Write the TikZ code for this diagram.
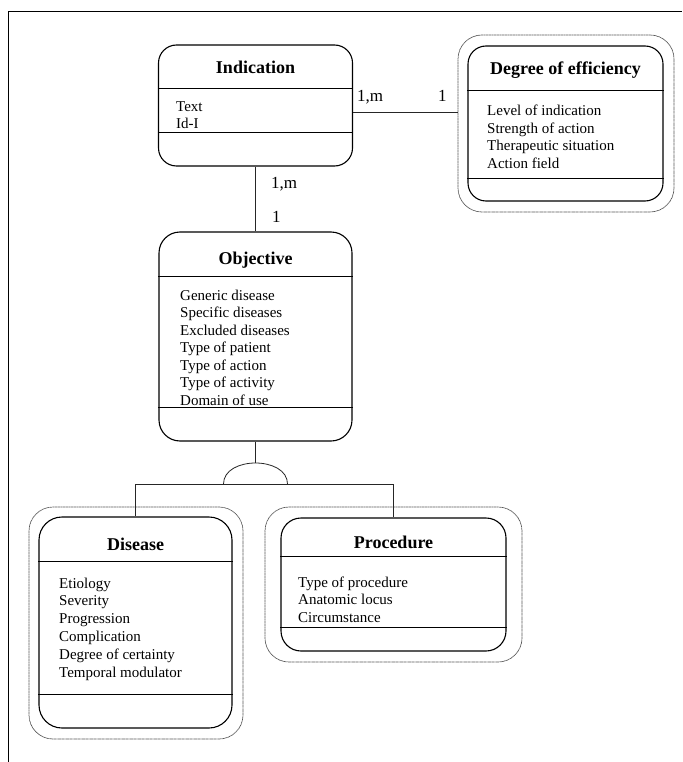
\documentclass[tikz,border=0pt]{standalone}
\usepackage{fontspec}
\setmainfont{Liberation Serif}
\tikzset{
  entity/.style={draw, line width=1.1pt, rounded corners=18pt, inner sep=0pt},
  outer/.style={draw=black!65, line width=0.7pt, dash pattern=on 1.2pt off 0.4pt, rounded corners=24pt, inner sep=0pt},
  sep/.style={line width=1.1pt},
  link/.style={line width=0.8pt, black!85},
  title/.style={font=\fontsize{18}{20}\selectfont\bfseries, anchor=base, inner sep=0pt},
  item/.style={font=\fontsize{15}{17.5}\selectfont, anchor=base west, inner sep=0pt},
  card/.style={font=\fontsize{17}{19}\selectfont, anchor=base west, inner sep=0pt}
}
\begin{document}
\begin{tikzpicture}[x=1pt, y=-1pt]
\useasboundingbox (0,0) rectangle (682,762);
% Frame
    \draw[line width=1pt] (8,762) -- (8,12) -- (682,12);
% Outer lines
    \node[outer, minimum width=216pt, minimum height=177pt] (degout) at (566,123.5) {};
    \node[outer, minimum width=214pt, minimum height=232pt] (disout) at (136,623) {};
    \node[outer, minimum width=257pt, minimum height=155pt] (procout) at (393.5,584.5) {};
% Boxes
    \node[entity, minimum width=194pt, minimum height=121pt] (ind) at (255.5,105.5) {};
    \node[entity, rounded corners=21pt, minimum width=193pt, minimum height=209pt] (obj) at (255.5,336.5) {};
    \node[entity, minimum width=195pt, minimum height=155pt] (deg) at (565.5,123.5) {};
    \node[entity, rounded corners=23pt, minimum width=193pt, minimum height=211pt] (dis) at (135.5,622.5) {};
    \node[entity, rounded corners=20pt, minimum width=225pt, minimum height=133pt] (proc) at (393.5,584.5) {};
% Separators
    \draw[sep] ([yshift=-44pt]ind.north west) -- ([yshift=-44pt]ind.north east);
    \draw[sep] ([yshift=-88pt]ind.north west) -- ([yshift=-88pt]ind.north east);
    \draw[sep] ([yshift=-45pt]obj.north west) -- ([yshift=-45pt]obj.north east);
    \draw[sep] ([yshift=-176pt]obj.north west) -- ([yshift=-176pt]obj.north east);
    \draw[sep] ([yshift=-45pt]deg.north west) -- ([yshift=-45pt]deg.north east);
    \draw[sep] ([yshift=-133pt]deg.north west) -- ([yshift=-133pt]deg.north east);
    \draw[sep] ([yshift=-45pt]dis.north west) -- ([yshift=-45pt]dis.north east);
    \draw[sep] ([yshift=-178pt]dis.north west) -- ([yshift=-178pt]dis.north east);
    \draw[sep] ([yshift=-39pt]proc.north west) -- ([yshift=-39pt]proc.north east);
    \draw[sep] ([yshift=-110pt]proc.north west) -- ([yshift=-110pt]proc.north east);
% Titles
    \node[title] (indT) at (255.5,74) {Indication};
    \node[title] (objT) at (255.5,264) {Objective};
    \node[title] (degT) at (565.5,75) {Degree of efficiency};
    \node[title] (disT) at (135.5,550) {Disease};
    \node[title] (procT) at (393.5,548) {Procedure};
% Attributes
    \foreach \t [count=\i from 0] in {Text, Id-I}
        \node[item] (ind\i) at (176,{112+17*\i}) {\t};
    \foreach \t [count=\i from 0] in {Generic disease, Specific diseases, Excluded diseases,
        Type of patient, Type of action, Type of activity, Domain of use}
        \node[item] (obj\i) at (180,{300+17.5*\i}) {\t};
    \foreach \t [count=\i from 0] in {Level of indication, Strength of action,
        Therapeutic situation, Action field}
        \node[item] (deg\i) at (487,{116+17.5*\i}) {\t};
    \foreach \t [count=\i from 0] in {Etiology, Severity, Progression, Complication,
        Degree of certainty, Temporal modulator}
        \node[item] (dis\i) at (59,{588+17.8*\i}) {\t};
    \foreach \t [count=\i from 0] in {Type of procedure, Anatomic locus, Circumstance}
        \node[item] (proc\i) at (298,{587+17.5*\i}) {\t};
% Links
    \draw[link] ([yshift=-6.5pt]ind.east) -- ([yshift=-6.5pt]ind.east -| degout.west);
    \draw[link] (ind.south) -- (obj.north);
    \node[card] (c1) at (357,102) {1,m};
    \node[card] (c2) at (438,102) {1};
    \node[card] (c3) at (271,189) {1,m};
    \node[card] (c4) at (272,222) {1};
% Generalisation
    \coordinate (isa) at (255.5,484);
    \draw[link] (obj.south) -- ([yshift=21pt]isa);
    \draw[link] ([xshift=-32pt]isa) .. controls +(0,-28) and +(0,-28) .. ([xshift=32pt]isa);
    \draw[link] (dis.north |- isa) -- (proc.north |- isa);
    \draw[link] (dis.north |- isa) -- (dis.north);
    \draw[link] (proc.north |- isa) -- (proc.north);
\end{tikzpicture}
\end{document}
